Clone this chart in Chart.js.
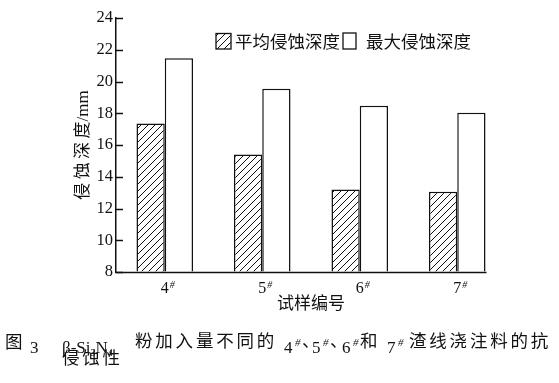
<!DOCTYPE html>
<html><head><meta charset="utf-8">
<script src="https://cdn.jsdelivr.net/npm/chart.js@4"></script>
<style>
html,body{margin:0;padding:0;background:#fff;}
#wrap{position:relative;width:559px;height:383px;overflow:hidden;background:#fff;}
#c{position:absolute;left:0;top:0;}
.t{position:absolute;white-space:nowrap;line-height:1;color:#111;}
.cjk{font-family:'Noto Sans CJK SC',sans-serif;font-size:17.5px;}
.sp{letter-spacing:2.8px;}
.ser{font-family:'Liberation Serif',serif;font-size:17px;}
.sup{font-family:'Liberation Serif',serif;font-size:11px;font-style:italic;}
.sub{font-size:10px;position:relative;top:3px;}
</style></head>
<body><div id="wrap"><canvas id="c" width="559" height="383"></canvas>
<span class="t cjk" style="left:5px;top:332px;">图</span>
<span class="t ser" style="left:30px;top:339px;">3</span>
<span class="t ser" style="left:62px;top:339px;">β-Si<span class="sub">3</span>N<span class="sub">4</span></span>
<span class="t cjk sp" style="left:135px;top:331px;">粉加入量不同的</span>
<span class="t ser" style="left:284px;top:339px;">4</span><span class="t sup" style="left:295px;top:337px;">#</span>
<span class="t cjk" style="left:302px;top:331px;">、</span>
<span class="t ser" style="left:312px;top:339px;">5</span><span class="t sup" style="left:323px;top:337px;">#</span>
<span class="t cjk" style="left:330px;top:331px;">、</span>
<span class="t ser" style="left:342px;top:339px;">6</span><span class="t sup" style="left:353px;top:337px;">#</span>
<span class="t cjk" style="left:360px;top:331px;">和</span>
<span class="t ser" style="left:387px;top:339px;">7</span><span class="t sup" style="left:398px;top:337px;">#</span>
<span class="t cjk sp" style="left:409px;top:331px;">渣线浇注料的抗</span>
<span class="t cjk sp" style="left:62px;top:348px;">侵蚀性</span>
</div>
<script>
const categories = ['4', '5', '6', '7'];
const categorySuffix = '#';
const seriesNames = ['平均侵蚀深度', '最大侵蚀深度'];
const avgDepth = [17.35, 15.4, 13.2, 13.05];
const maxDepth = [21.47, 19.55, 18.48, 18.03];
const yMin = 8, yMax = 24, yStep = 2;
const xTitle = '试样编号';
const yTitle = '侵\u2009蚀\u2009深\u2009度/mm';

const SERIF = "'Liberation Serif', 'Noto Sans CJK SC', serif";
const CJK = "'Noto Sans CJK SC', sans-serif";
const INK = '#111111';

function makeHatch() {
  const s = 7;
  const cv = document.createElement('canvas');
  cv.width = s; cv.height = s;
  const g = cv.getContext('2d');
  g.fillStyle = '#fff'; g.fillRect(0, 0, s, s);
  g.strokeStyle = INK; g.lineWidth = 1;
  g.beginPath();
  g.moveTo(-1, s + 1); g.lineTo(s + 1, -1);
  g.moveTo(-1, 1); g.lineTo(1, -1);
  g.moveTo(s - 1, s + 1); g.lineTo(s + 1, s - 1);
  g.stroke();
  return g.createPattern(cv, 'repeat');
}
const hatch = makeHatch();

const decor = {
  id: 'decor',
  afterDraw(chart) {
    const ctx = chart.ctx;
    const ca = chart.chartArea;
    const ys = chart.scales.y, xs = chart.scales.x;
    ctx.save();
    ctx.strokeStyle = INK;
    ctx.lineWidth = 1.5;
    ys.ticks.forEach(t => {
      const y = Math.round(ys.getPixelForValue(t.value)) + 0.5;
      ctx.beginPath(); ctx.moveTo(ca.left, y); ctx.lineTo(ca.left + 7, y); ctx.stroke();
    });
    const meta = chart.getDatasetMeta(chart.data.datasets.length - 1);
    const last = meta.data[meta.data.length - 1];
    const xr = last.x + last.width / 2 + 1;
    const yb = Math.round(ca.bottom) + 0.5;
    ctx.beginPath(); ctx.moveTo(ca.left - 0.75, yb); ctx.lineTo(xr, yb); ctx.stroke();
    ctx.fillStyle = INK;
    categories.forEach((c, i) => {
      const x = xs.getPixelForTick(i);
      ctx.font = "16px 'Liberation Serif'";
      const w = ctx.measureText(c).width;
      ctx.font = "italic 10px 'Liberation Serif'";
      ctx.textBaseline = 'top';
      ctx.textAlign = 'left';
      ctx.fillText(categorySuffix, x + w / 2 + 1, 280);
    });
    const boxes = [
      {x: 216, y: 33.5, w: 15, h: 15.5, tx: 235},
      {x: 343, y: 33, w: 13, h: 16, tx: 366}
    ];
    chart.data.datasets.forEach((ds, i) => {
      const b = boxes[i];
      ctx.fillStyle = ds.backgroundColor;
      ctx.fillRect(b.x, b.y, b.w, b.h);
      ctx.lineWidth = 1.3;
      ctx.strokeStyle = INK;
      ctx.strokeRect(b.x, b.y, b.w, b.h);
      ctx.fillStyle = INK;
      ctx.font = "17.5px " + CJK;
      ctx.textBaseline = 'middle';
      ctx.textAlign = 'left';
      ctx.fillText(ds.label, b.tx, 41.5);
    });
    ctx.restore();
  }
};

new Chart(document.getElementById('c'), {
  type: 'bar',
  data: {
    labels: categories,
    datasets: [
      {label: seriesNames[0], data: avgDepth, backgroundColor: hatch, borderColor: INK, borderWidth: 1.5, base: yMin},
      {label: seriesNames[1], data: maxDepth, backgroundColor: '#ffffff', borderColor: INK, borderWidth: 1.5, base: yMin}
    ]
  },
  options: {
    responsive: false,
    animation: false,
    layout: {padding: {left: 0, top: 18, right: 53, bottom: 0}},
    datasets: {bar: {barPercentage: 1, categoryPercentage: 0.58}},
    plugins: {legend: {display: false}, tooltip: {enabled: false}},
    scales: {
      x: {
        grid: {display: false, drawTicks: false},
        border: {display: false},
        ticks: {color: INK, font: {family: SERIF, size: 16}, padding: 7, maxRotation: 0},
        title: {display: true, text: xTitle, color: INK, font: {family: CJK, size: 17}, padding: {top: 0, bottom: 69.8}},
        afterFit: s => { s.height = 111; }
      },
      y: {
        min: yMin, max: yMax,
        grid: {display: true, drawOnChartArea: false, drawTicks: false},
        border: {display: true, color: INK, width: 1.5},
        ticks: {stepSize: yStep, color: INK, font: {family: SERIF, size: 16.5}, padding: 3},
        title: {display: true, text: yTitle, color: INK, font: {family: SERIF, size: 17}, padding: {top: 73.3, bottom: 0}},
        afterFit: s => { s.width = 116; }
      }
    }
  },
  plugins: [decor]
});
</script>
</body></html>
